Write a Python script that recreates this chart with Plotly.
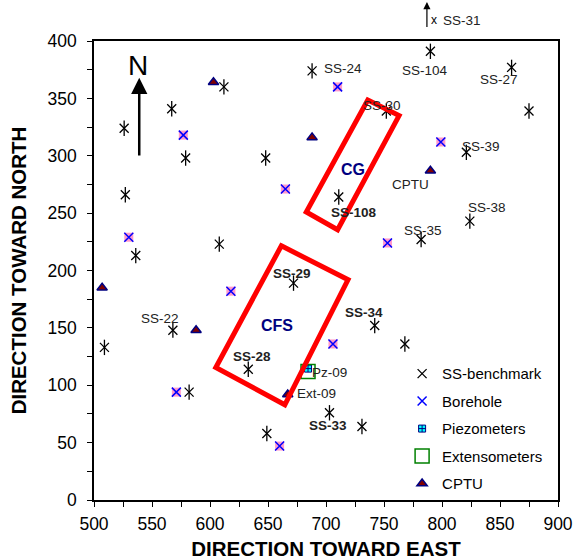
import plotly.graph_objects as go

# ---- data ----
ss_x = [509, 526, 527, 536, 567, 568, 579, 582, 608, 612, 633, 648, 649, 672,
        688, 703, 731, 711, 742, 752, 768, 782, 790, 821, 824, 860, 875]
ss_y = [133, 324, 266, 213, 341, 148, 298, 94, 223, 360, 114, 298, 58, 189,
        374, 76, 64, 264, 152, 339, 136, 227, 391, 303, 243, 377, 339]

bh_x = [530, 577, 571, 618, 660, 665, 706, 710, 753, 799]
bh_y = [229, 318, 94, 182, 47, 271, 136, 360, 224, 312]

pz_x = [684.5]
pz_y = [114.5]

ext_x = [684.5]
ext_y = [112]

cptu_x = [507, 588, 603, 667, 688, 790]
cptu_y = [185, 148, 364, 92, 316, 287]

label_text = ["SS-24", "SS-104", "SS-27", "SS-30", "SS-39", "CPTU", "SS-38",
              "SS-35", "SS-108", "SS-29", "SS-22", "SS-34", "SS-28", "Pz-09",
              "Ext-09", "SS-33"]
label_x = [715, 785, 849, 748, 834, 773, 839, 784, 724, 671, 557, 733, 636.5, 703, 691.5, 702]
label_y = [376, 374.5, 366.5, 344, 308, 275, 254.5, 234.5, 250.5, 197, 158.5, 163, 125, 111, 93, 65]
label_bold = [False, False, False, False, False, False, False, False, True, True,
              False, True, True, False, False, True]

# SS-31 lies off the chart (above the top edge)
ss31_x = 787
ss31_arrow_y = [411, 434]
ss31_text_y = 426.5

zone_names = ["CG", "CFS"]
zone_text_x = [723, 658]
zone_text_y = [288, 152]
zone_cg_x = [736, 763, 710, 683]
zone_cg_y = [348.5, 335, 235.5, 251]
zone_cfs_x = [661.5, 719, 664.5, 605]
zone_cfs_y = [221.5, 192, 83, 115.5]

x_range = [500, 900]
y_range = [0, 400]
x_ticks = [500, 550, 600, 650, 700, 750, 800, 850, 900]
y_ticks = [0, 50, 100, 150, 200, 250, 300, 350, 400]

FONT = "Liberation Sans, Arial, sans-serif"

fig = go.Figure()

fig.add_trace(go.Scatter(
    x=ss_x, y=ss_y, mode="markers", name="SS-benchmark", legendgroup="a",
    marker=dict(symbol="x-thin-open", size=9, color="black",
                line=dict(color="black", width=1.3))))
fig.add_trace(go.Scatter(
    x=ss_x, y=ss_y, mode="markers", showlegend=False, hoverinfo="skip",
    marker=dict(symbol="line-ns-open", size=11, color="black",
                line=dict(color="black", width=1.3))))

fig.add_trace(go.Scatter(
    x=bh_x, y=bh_y, mode="markers", showlegend=False, hoverinfo="skip",
    marker=dict(symbol="square", size=9, color="#ff99cc", line=dict(width=0))))
fig.add_trace(go.Scatter(
    x=bh_x, y=bh_y, mode="markers", name="Borehole", legendgroup="b",
    marker=dict(symbol="x-thin-open", size=9, color="#0000ff",
                line=dict(color="#0000ff", width=1.5))))

fig.add_trace(go.Scatter(
    x=pz_x, y=pz_y, mode="markers", name="Piezometers", legendgroup="c",
    marker=dict(symbol="square-cross", size=7, color="#00ffff",
                line=dict(color="#000080", width=1))))

fig.add_trace(go.Scatter(
    x=ext_x, y=ext_y, mode="markers", name="Extensometers", legendgroup="d",
    marker=dict(symbol="square-open", size=14, color="#008000",
                line=dict(color="#008000", width=1.5))))

fig.add_trace(go.Scatter(
    x=cptu_x, y=cptu_y, mode="markers", name="CPTU", legendgroup="e",
    marker=dict(symbol="triangle-up", size=9, color="#800000",
                line=dict(color="#000080", width=1.5))))

# zones
for zx, zy in [(zone_cg_x, zone_cg_y), (zone_cfs_x, zone_cfs_y)]:
    path = "M " + " L ".join(f"{a},{b}" for a, b in zip(zx, zy)) + " Z"
    fig.add_shape(type="path", path=path, xref="x", yref="y",
                  line=dict(color="#ff0000", width=5), layer="above")

for name, tx, ty in zip(zone_names, zone_text_x, zone_text_y):
    fig.add_annotation(x=tx, y=ty, text=f"<b>{name}</b>", showarrow=False,
                       font=dict(family=FONT, size=16, color="#000080"))

for t, lx, ly, b in zip(label_text, label_x, label_y, label_bold):
    fig.add_annotation(x=lx, y=ly, text=f"<b>{t}</b>" if b else t, showarrow=False,
                       font=dict(family=FONT, size=13.5, color="#222222"))

# North arrow
fig.add_annotation(x=539, y=368, ax=539, ay=299, xref="x", yref="y",
                   axref="x", ayref="y", text="", showarrow=True,
                   arrowhead=2, arrowsize=1.3, arrowwidth=2.5, arrowcolor="black")
fig.add_annotation(x=538, y=379, text="N", showarrow=False,
                   font=dict(family=FONT, size=28, color="black"))

# SS-31 off-chart marker (y domain because it sits above the axis range)
def ydom(v):
    return (v - y_range[0]) / (y_range[1] - y_range[0])

fig.add_annotation(x=ss31_x, y=ydom(ss31_arrow_y[1]), ax=ss31_x, ay=ydom(ss31_arrow_y[0]),
                   xref="x", yref="y domain", axref="x", ayref="y domain", text="",
                   showarrow=True, arrowhead=2, arrowsize=1.2, arrowwidth=1.2,
                   arrowcolor="black")
fig.add_annotation(x=ss31_x + 6, y=ydom(ss31_text_y), xref="x", yref="y domain",
                   text="x", showarrow=False,
                   font=dict(family=FONT, size=12, color="black"))
fig.add_annotation(x=ss31_x + 30, y=ydom(ss31_text_y), xref="x", yref="y domain",
                   text="SS-31", showarrow=False,
                   font=dict(family=FONT, size=13.5, color="#222222"))

axis_common = dict(
    showgrid=False, zeroline=False, showline=True, linecolor="black", linewidth=1.5,
    mirror=True, ticks="outside", ticklen=5, tickcolor="black", tickwidth=1,
    tickfont=dict(family=FONT, size=17.5, color="black"), automargin=False,
    minor=dict(ticks="outside", ticklen=5, tickcolor="black", tickwidth=1),
)

fig.update_xaxes(range=x_range, tickvals=x_ticks, minor_dtick=25,
                 ticklabelstandoff=2,
                 title=dict(text="<b>DIRECTION TOWARD EAST</b>", standoff=21,
                            font=dict(family=FONT, size=20.5, color="black")),
                 **axis_common)
fig.update_yaxes(range=y_range, tickvals=y_ticks, minor_dtick=25,
                 ticklabelstandoff=7,
                 title=dict(text="<b>DIRECTION TOWARD NORTH</b>", standoff=15,
                            font=dict(family=FONT, size=20.5, color="black")),
                 **axis_common)

fig.update_layout(
    width=573, height=560,
    margin=dict(l=94, r=15, t=41, b=60),
    plot_bgcolor="white", paper_bgcolor="white",
    font=dict(family=FONT),
    legend=dict(x=0.664, y=0.3108, xanchor="left", yanchor="top",
                bgcolor="rgba(0,0,0,0)", tracegroupgap=5,
                font=dict(family=FONT, size=15, color="black")),
)

# remove the browser's default page margin so the figure fills the window exactly
fig.write_html("out.html", config={"displayModeBar": False},
               post_script="document.body.style.margin='0';document.body.style.overflow='hidden';")
